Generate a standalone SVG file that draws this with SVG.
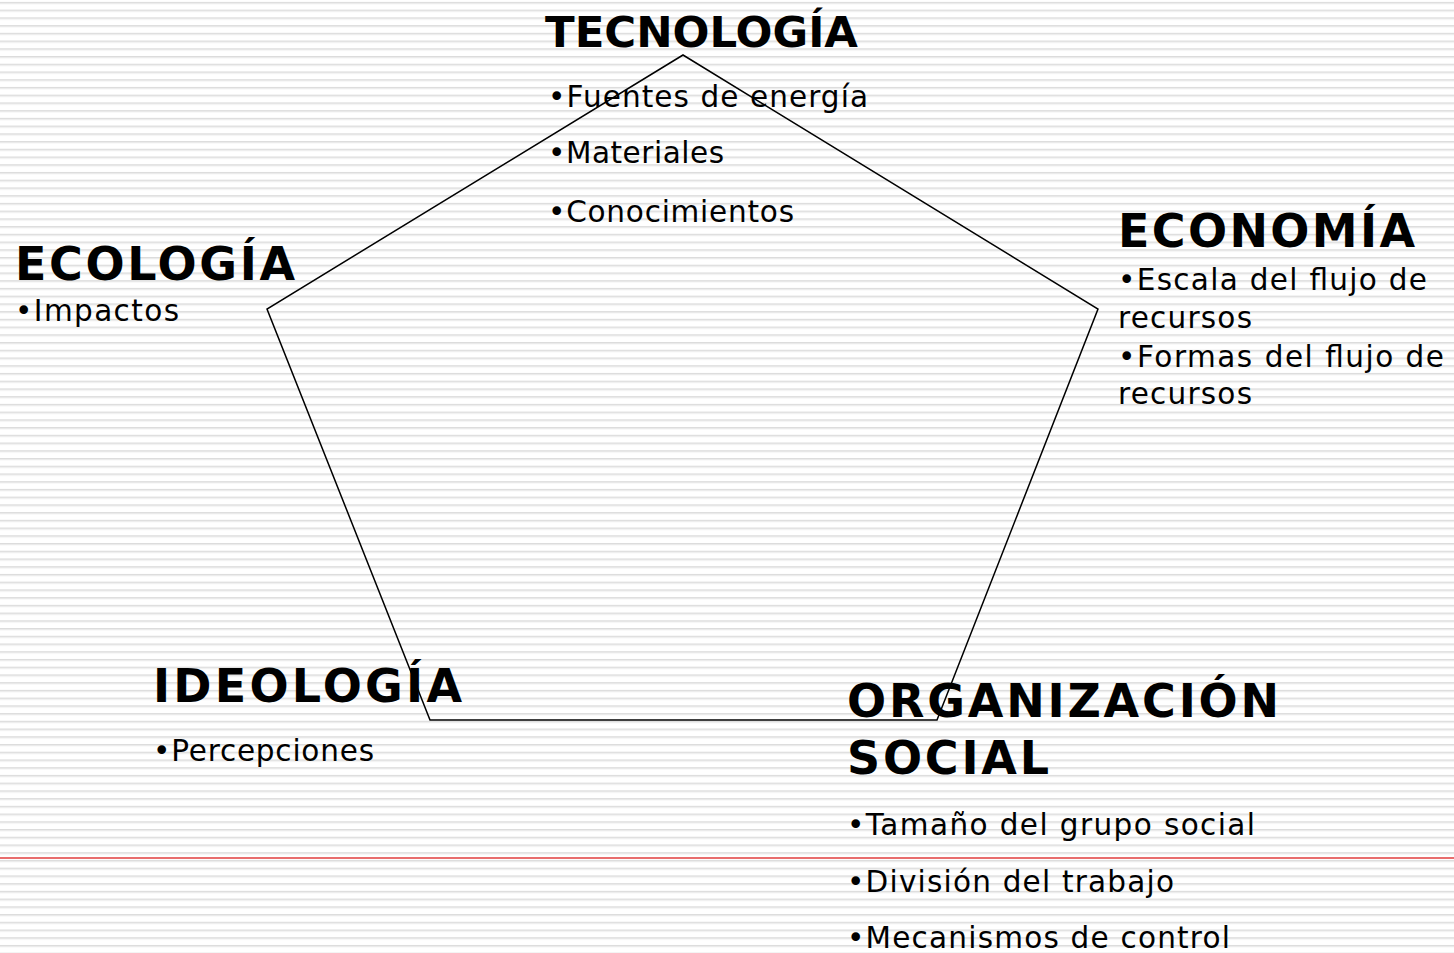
<svg xmlns="http://www.w3.org/2000/svg" width="1454" height="953" viewBox="0 0 1454 953">
  <defs>
    <pattern id="stripes" x="0" y="1.9" width="20" height="7.73" patternUnits="userSpaceOnUse">
      <rect x="0" y="0" width="20" height="1" fill="#dcdcdc"/>
      <rect x="0" y="1" width="20" height="1.2" fill="#e9e9e9"/>
    </pattern>
    <style>
      .h { font-family: "DejaVu Sans", Verdana, sans-serif; font-weight: bold; font-size: 46px; fill: #000; }
      .t { font-size: 43px; }
      .b { font-family: "DejaVu Sans", Verdana, sans-serif; font-size: 29.5px; fill: #000; }
      .edge { fill: none; stroke: #000; stroke-width: 1.5; stroke-linejoin: miter; }
    </style>
  </defs>
  <rect x="0" y="0" width="1454" height="953" fill="#ffffff"/>
  <rect x="0" y="0" width="1454" height="953" fill="url(#stripes)"/>
  <line x1="0" y1="858" x2="1454" y2="858" stroke="#e03c3c" stroke-width="1.4"/>

  <g id="connectors">
    <polygon class="edge" points="683,55 1098,309 937,720 430,720 267,309"/>
  </g>

  <g id="tecnologia">
    <text class="h t" x="545" y="47" textLength="313" lengthAdjust="spacingAndGlyphs">TECNOLOGÍA</text>
    <text class="b" x="548" y="107" textLength="320" lengthAdjust="spacing">•Fuentes de energía</text>
    <text class="b" x="548" y="163" textLength="176" lengthAdjust="spacing">•Materiales</text>
    <text class="b" x="548" y="222" textLength="246" lengthAdjust="spacing">•Conocimientos</text>
  </g>

  <g id="economia">
    <text class="h" x="1118" y="247" textLength="297" lengthAdjust="spacing">ECONOMÍA</text>
    <text class="b" x="1118" y="290" textLength="309" lengthAdjust="spacing">•Escala del flujo de</text>
    <text class="b" x="1118" y="328" textLength="134" lengthAdjust="spacing">recursos</text>
    <text class="b" x="1118" y="367" textLength="326" lengthAdjust="spacing">•Formas del flujo de</text>
    <text class="b" x="1118" y="404" textLength="134" lengthAdjust="spacing">recursos</text>
  </g>

  <g id="ecologia">
    <text class="h" x="15" y="280" textLength="280" lengthAdjust="spacing">ECOLOGÍA</text>
    <text class="b" x="15" y="321" textLength="164" lengthAdjust="spacing">•Impactos</text>
  </g>

  <g id="ideologia">
    <text class="h" x="153" y="702" textLength="309" lengthAdjust="spacing">IDEOLOGÍA</text>
    <text class="b" x="153" y="761" textLength="221" lengthAdjust="spacing">•Percepciones</text>
  </g>

  <g id="organizacion-social">
    <text class="h" x="847" y="717" textLength="432" lengthAdjust="spacing">ORGANIZACIÓN</text>
    <text class="h" x="847" y="774" textLength="202" lengthAdjust="spacing">SOCIAL</text>
    <text class="b" x="847" y="835" textLength="408" lengthAdjust="spacing">•Tamaño del grupo social</text>
    <text class="b" x="847" y="892" textLength="327" lengthAdjust="spacing">•División del trabajo</text>
    <text class="b" x="847" y="948" textLength="383" lengthAdjust="spacing">•Mecanismos de control</text>
  </g>
</svg>
